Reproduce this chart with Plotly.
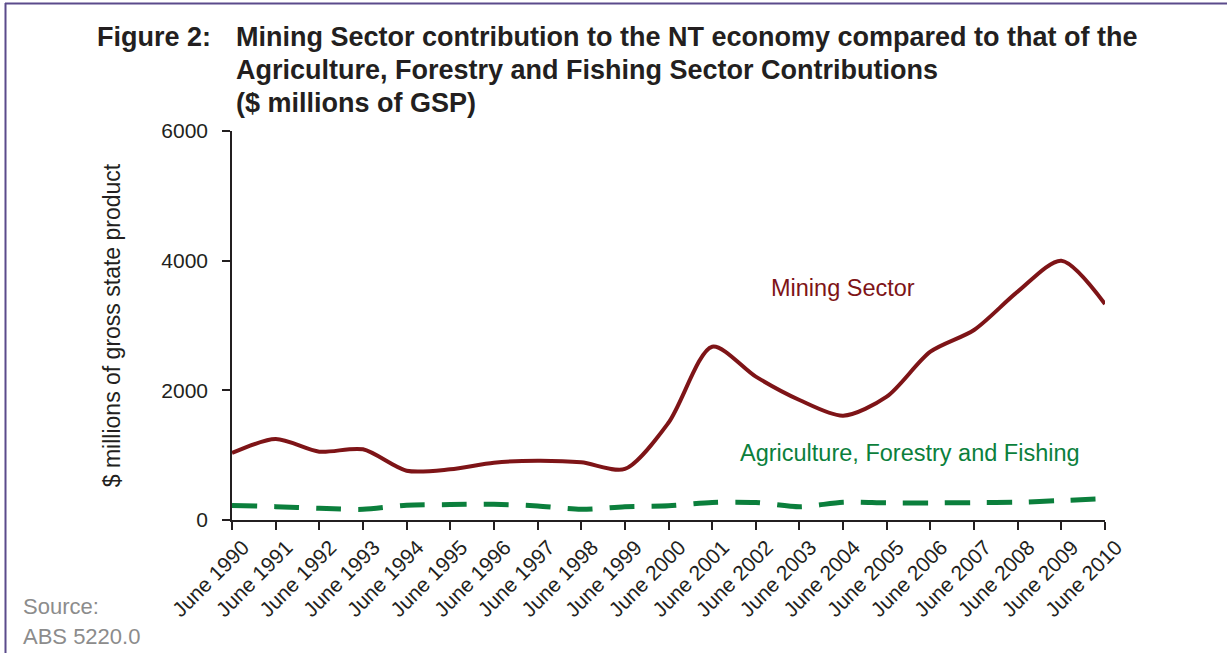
import plotly.graph_objects as go

# Financial years (June) shown on the category axis
years = [f"June {y}" for y in range(1990, 2011)]

# Gross state product contribution, $ millions
mining = [1033, 1249, 1054, 1090, 760, 782, 884, 915, 890, 787,
          1500, 2673, 2211, 1851, 1609, 1902, 2596, 2931, 3522, 4000, 3332]
agriculture = [225, 206, 180, 165, 227, 238, 243, 217, 165, 206,
               220, 270, 270, 205, 274, 264, 264, 268, 274, 300, 330]

W, H = 1227, 653
L, R, T, B = 232, 122, 131, 133
PW, PH = W - L - R, H - T - B

FONT = "Liberation Sans, Arial, sans-serif"
AXIS = "#231f20"
MINING_C = "#7e1417"
AGRI_C = "#0b7f3c"


def px(x):
    return (x - L) / PW


def py(y):
    return (H - B - y) / PH


fig = go.Figure()
fig.add_trace(go.Scatter(
    x=years, y=mining, mode="lines",
    line=dict(color=MINING_C, width=4, shape="spline", smoothing=0.8),
    name="Mining Sector", showlegend=False))
fig.add_trace(go.Scatter(
    x=years, y=agriculture, mode="lines",
    line=dict(color=AGRI_C, width=5, shape="spline", smoothing=0.8,
              dash="25px,17px"),
    name="Agriculture, Forestry and Fishing", showlegend=False))

fig.update_layout(
    width=W, height=H,
    margin=dict(l=L, r=R, t=T, b=B, pad=0),
    paper_bgcolor="white", plot_bgcolor="white",
    font=dict(family=FONT, color=AXIS),
    xaxis=dict(
        type="category", range=[0, len(years) - 1],
        showgrid=False, zeroline=False,
        showline=True, linecolor=AXIS, linewidth=1.5,
        ticks="outside", ticklen=8, tickwidth=1.5, tickcolor=AXIS,
        tickangle=-45, tickfont=dict(size=21, color=AXIS),
        ticklabelshift=11, ticklabelstandoff=-3,
    ),
    yaxis=dict(
        range=[0, 6000], tickvals=[0, 2000, 4000, 6000],
        showgrid=False, zeroline=False,
        showline=True, linecolor=AXIS, linewidth=1.5,
        ticks="outside", ticklen=8, tickwidth=1.5, tickcolor=AXIS,
        tickfont=dict(size=21, color=AXIS), ticklabelstandoff=10,
        title=dict(text="$ millions of gross state product",
                   font=dict(size=23, color=AXIS), standoff=34),
    ),
)

# Figure title
title_font = dict(family=FONT, size=27, color=AXIS)
fig.add_annotation(text="<b>Figure 2:</b>", xref="paper", yref="paper",
                   x=px(95), y=py(37), xanchor="left", yanchor="middle",
                   showarrow=False, font=title_font)
for text, y in [
    ("Mining Sector contribution to the NT economy compared to that of the", 37),
    ("Agriculture, Forestry and Fishing Sector Contributions", 70),
    ("($ millions of GSP)", 103),
]:
    fig.add_annotation(text=f"<b>{text}</b>", xref="paper", yref="paper",
                       x=px(234), y=py(y), xanchor="left", yanchor="middle",
                       showarrow=False, font=title_font)

# Series labels
fig.add_annotation(text="Mining Sector", xref="paper", yref="paper",
                   x=px(843), y=py(288), xanchor="center", yanchor="middle",
                   showarrow=False, font=dict(family=FONT, size=23.5, color=MINING_C))
fig.add_annotation(text="Agriculture, Forestry and Fishing", xref="paper", yref="paper",
                   x=px(738), y=py(453), xanchor="left", yanchor="middle",
                   showarrow=False, font=dict(family=FONT, size=23.5, color=AGRI_C))

# Source note
for text, y in [("Source:", 606), ("ABS 5220.0", 636)]:
    fig.add_annotation(text=text, xref="paper", yref="paper",
                       x=px(21), y=py(y), xanchor="left", yanchor="middle",
                       showarrow=False, font=dict(family=FONT, size=22, color="#8c8c8c"))

# Frame lines along the top and left edge
FRAME = "#5b4b8b"
fig.add_shape(type="line", xref="paper", yref="paper",
              x0=px(5), x1=px(W), y0=py(3.5), y1=py(3.5),
              line=dict(color=FRAME, width=2))
fig.add_shape(type="line", xref="paper", yref="paper",
              x0=px(5.5), x1=px(5.5), y0=py(3), y1=py(H),
              line=dict(color=FRAME, width=2))

fig.write_html("out.html")
